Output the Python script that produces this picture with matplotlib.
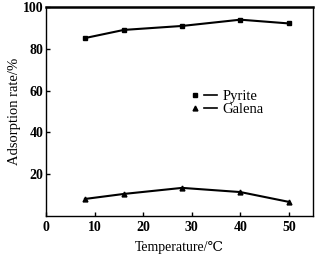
import matplotlib
matplotlib.use("Agg")
import matplotlib.pyplot as plt
from matplotlib.lines import Line2D
from matplotlib.legend_handler import HandlerTuple

plt.rcParams['font.family'] = ['Liberation Serif', 'DejaVu Serif']

# Данные
temperature = [8, 16, 28, 40, 50]
pyrite = [85.1, 89.0, 90.9, 93.9, 92.1]
galena = [8.1, 10.5, 13.4, 11.4, 6.7]

fig = plt.figure(figsize=(3.16, 2.57), dpi=100)
ax = fig.add_axes([0.146, 0.16, 0.845, 0.813])

ax.plot(temperature, pyrite, color='k', linewidth=1.5, marker='s', markersize=3.5)
ax.plot(temperature, galena, color='k', linewidth=1.5, marker='^', markersize=3.5)

ax.set_xlim(0, 55)
ax.set_ylim(0, 100)
ax.set_xticks([0, 10, 20, 30, 40, 50])
ax.set_yticks([20, 40, 60, 80, 100])
ax.tick_params(direction='in', length=3, width=1, labelsize=10, pad=2)
ax.tick_params(axis='x', pad=4)
for lbl in ax.get_xticklabels() + ax.get_yticklabels():
    lbl.set_fontweight('semibold')
for s in ax.spines.values():
    s.set_linewidth(1.0)
ax.spines['top'].set_linewidth(1.8)

ax.set_xlabel('Temperature/\u2103', fontsize=10, labelpad=5)
ax.set_ylabel('Adsorption rate/%', fontsize=10.5, labelpad=1)

# Легенда: маркер, затем линия
h_p = (Line2D([], [], color='k', marker='s', markersize=3.5, linestyle='none'),
       Line2D([], [], color='k', linewidth=1.2))
h_g = (Line2D([], [], color='k', marker='^', markersize=3.5, linestyle='none'),
       Line2D([], [], color='k', linewidth=1.2))
ax.legend([h_p, h_g], ['Pyrite', 'Galena'],
          handler_map={tuple: HandlerTuple(ndivide=None, pad=0.2)},
          loc='upper left', bbox_to_anchor=(0.51, 0.63), frameon=False,
          fontsize=10.5, handlelength=2.0, handletextpad=0.35,
          labelspacing=0.0, borderaxespad=0)

fig.savefig("out.png", dpi=100)
